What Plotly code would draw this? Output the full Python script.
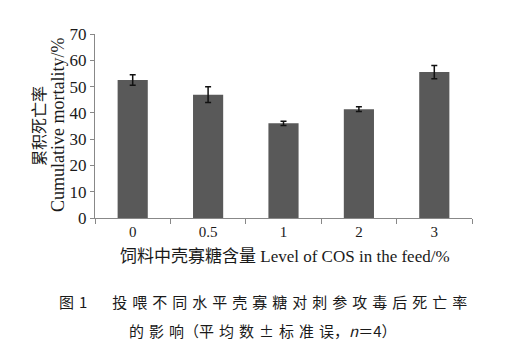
import plotly.graph_objects as go

categories = ["0", "0.5", "1", "2", "3"]
mortality = [52.5, 46.9, 36.0, 41.4, 55.5]
sem = [2.0, 3.0, 0.8, 0.9, 2.5]
y_ticks = [0, 10, 20, 30, 40, 50, 60, 70]

FONT = "Liberation Serif, Times New Roman, Noto Sans CJK SC, serif"
CJK = "Noto Sans CJK SC, Liberation Serif"

# the page body has an 8 px default margin; screen coords -> figure coords
OFF = 8
PL, PR, PT, PB = 95, 472, 34, 218   # plot area in screen pixels

fig = go.Figure()
fig.add_trace(go.Bar(
    x=categories, y=mortality,
    marker=dict(color="#595959", line=dict(width=0)),
    error_y=dict(type="data", array=sem, visible=True, color="#111111",
                 thickness=1.5, width=3),
    width=0.4,
))

SP = "\u2004"
def spaced(s):
    return SP.join(list(s))

W, H = 508, 358
fig.update_layout(
    width=W, height=H,
    margin=dict(l=PL - OFF, r=W - (PR - OFF), t=PT - OFF, b=H - (PB - OFF)),
    paper_bgcolor="white", plot_bgcolor="white",
    showlegend=False,
    font=dict(family=FONT, size=16, color="#1a1a1a"),
    xaxis=dict(
        type="category", showline=True, linecolor="#888888", linewidth=1,
        ticks="outside", tickson="boundaries", ticklen=5, tickcolor="#888888",
        tickfont=dict(family=FONT, size=15),
        showgrid=False,
    ),
    yaxis=dict(
        range=[0, 70], tickvals=y_ticks, showline=True, linecolor="#888888",
        linewidth=1, ticks="outside", ticklen=4, tickcolor="#888888",
        tickfont=dict(family=FONT, size=17), showgrid=False, zeroline=False,
    ),
)

def px(sx):
    return (sx - PL) / (PR - PL)

def py(sy):
    return (PB - sy) / (PB - PT)

fig.add_annotation(xref="paper", yref="paper", x=px(58), y=py(125),
                   text="Cumulative mortality/%", textangle=-90, showarrow=False,
                   font=dict(family=FONT, size=18), xanchor="center", yanchor="middle")
fig.add_annotation(xref="paper", yref="paper", x=px(38), y=py(126),
                   text="累积死亡率", textangle=-90, showarrow=False,
                   font=dict(family=CJK, size=16), xanchor="center", yanchor="middle")
fig.add_annotation(xref="paper", yref="paper", x=px(118), y=py(254),
                   text="<span style='font-family:Noto Sans CJK SC'>饲料中壳寡糖含量</span> Level of COS in the feed/%",
                   showarrow=False, font=dict(family=FONT, size=17),
                   xanchor="left", yanchor="middle")
fig.add_annotation(xref="paper", yref="paper", x=px(57), y=py(301),
                   text="图" + SP + "1" + SP * 5 + spaced("投喂不同水平壳寡糖对刺参攻毒后死亡率"),
                   showarrow=False, font=dict(family=CJK, size=15),
                   xanchor="left", yanchor="middle")
fig.add_annotation(xref="paper", yref="paper", x=px(127), y=py(330),
                   text=spaced("的影响") + "（" + spaced("平均数±标准误") + "，<i>n</i>＝4）",
                   showarrow=False, font=dict(family=CJK, size=15),
                   xanchor="left", yanchor="middle")

fig.write_html("out.html")
